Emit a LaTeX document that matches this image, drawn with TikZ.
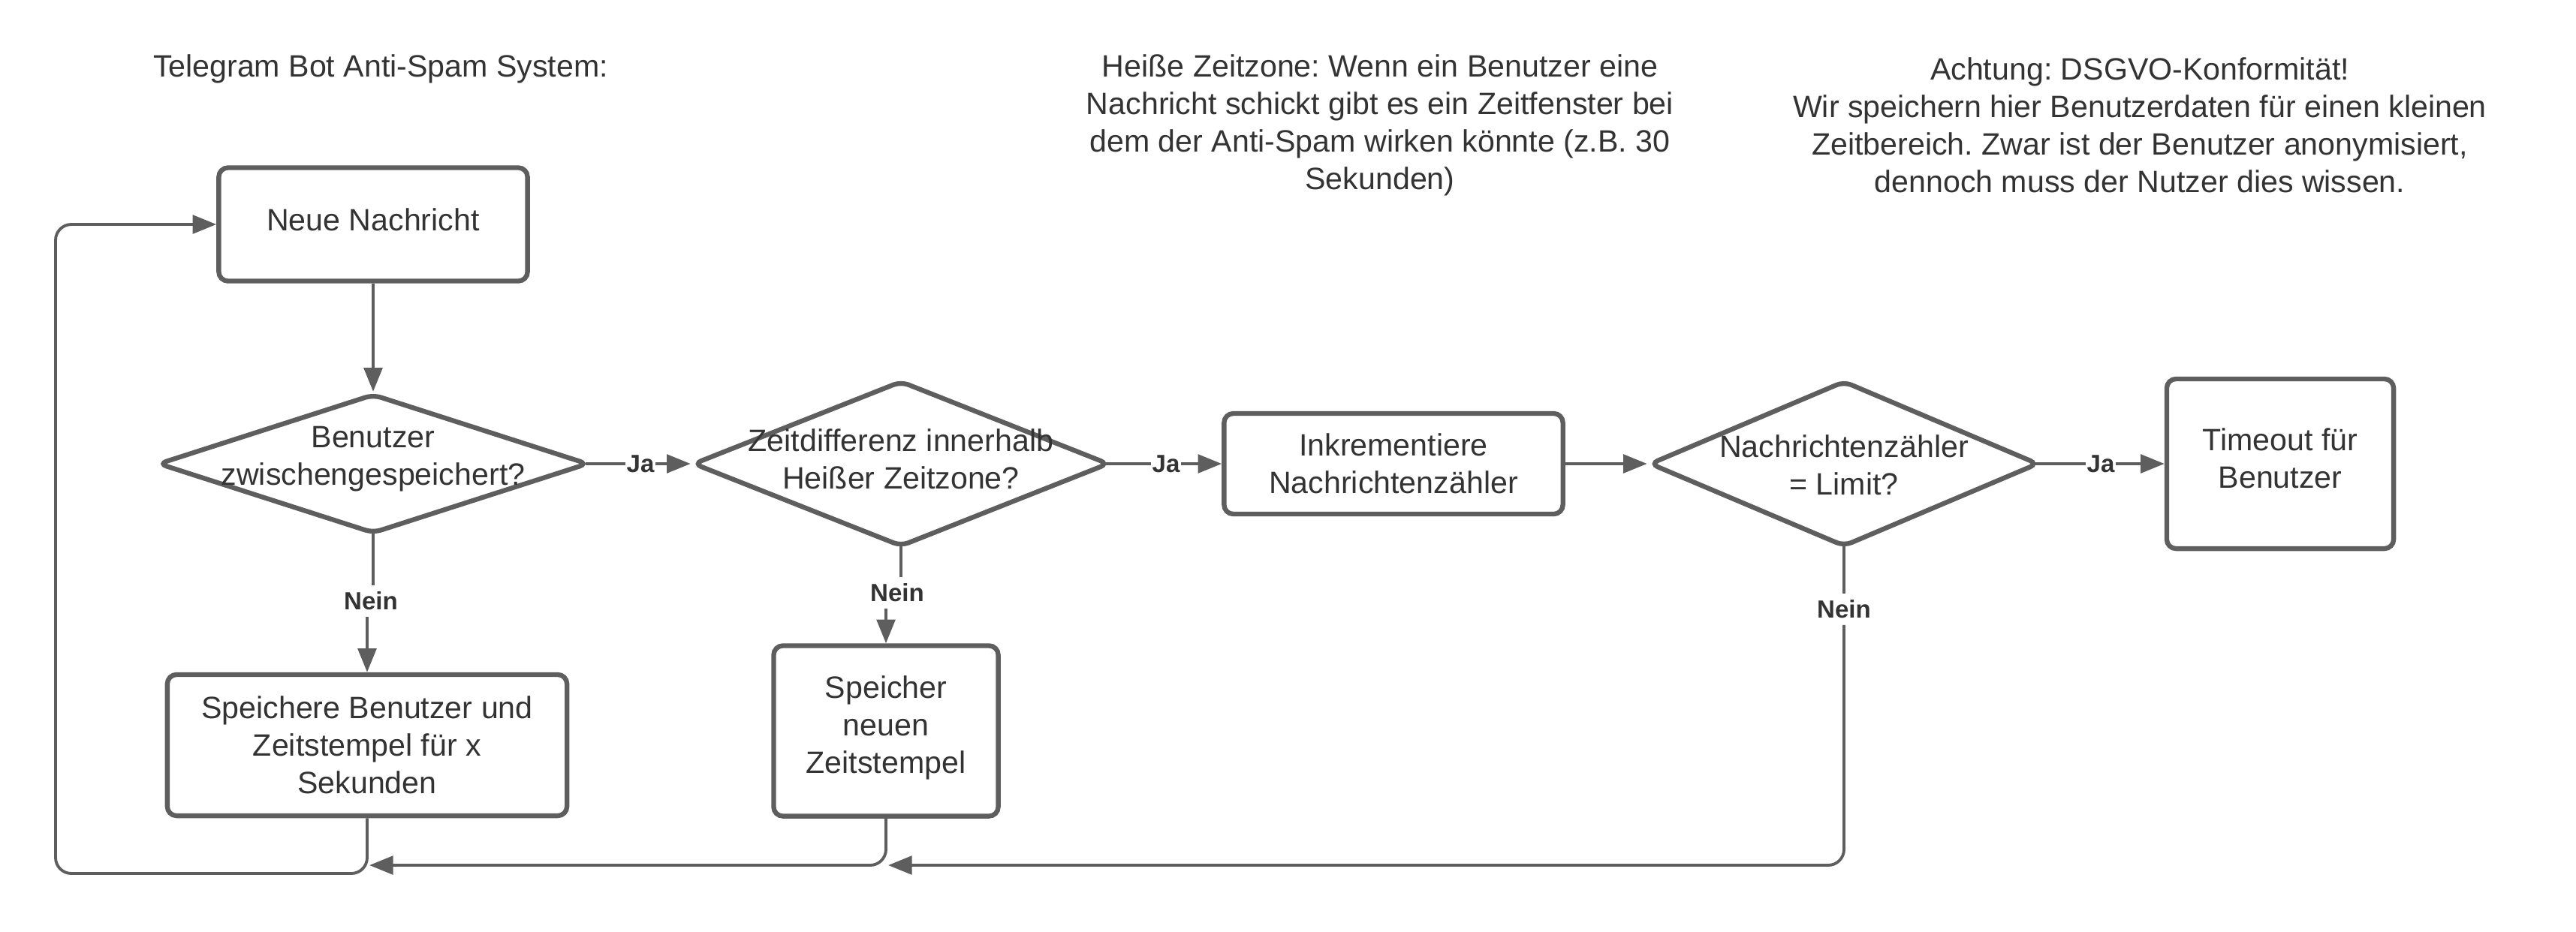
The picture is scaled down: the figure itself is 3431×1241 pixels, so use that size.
\documentclass[tikz,border=0pt]{standalone}
\usepackage{fontspec}
\setmainfont{Liberation Sans}
\usetikzlibrary{arrows.meta,shapes.geometric}
\definecolor{linegray}{HTML}{5E5E5E}
\definecolor{textgray}{HTML}{333333}
\frenchspacing
\tikzset{
  txt/.style={align=center, text=textgray, font=\fontsize{11.7}{14.2}\selectfont\frenchspacing, inner sep=0pt},
  box/.style={draw=linegray, line width=1.8pt, rounded corners=3.5pt, fill=white},
  dia/.style={draw=linegray, line width=1.8pt, shape=diamond, rounded corners=3pt, inner sep=0pt, fill=white},
  conn/.style={draw=linegray, line width=1.1pt},
  arr/.style={conn, -{Triangle[length=9pt,width=7pt]}},
  lbl/.style={fill=white, text=textgray, font=\fontsize{9.4}{11}\selectfont\bfseries, inner sep=0.3pt},
}
\begin{document}
\begin{tikzpicture}[x=0.01cm, y=-0.01cm]
\path[use as bounding box, fill=white] (0,0) rectangle (3431,1241);

% texts on top
\node[txt] (title) at (507,92) {Telegram Bot Anti-Spam System:};
\node[txt] (note1) at (1838,167) {Heiße Zeitzone: Wenn ein Benutzer eine\\Nachricht schickt gibt es ein Zeitfenster bei\\dem der Anti-Spam wirken könnte (z.B. 30\\Sekunden)};
\node[txt] (note2) at (2850,167) {Achtung: DSGVO-Konformität!\\Wir speichern hier Benutzerdaten für einen kleinen\\Zeitbereich. Zwar ist der Benutzer anonymisiert,\\dennoch muss der Nutzer dies wissen.};

% connectors first (behind shapes)
\node[lbl] (ja1) at (853,618) {Ja};
\node[lbl] (nein1) at (494,801) {Nein};
\node[lbl] (ja2) at (1553,618) {Ja};
\node[lbl] (nein2) at (1195,790) {Nein};
\node[lbl] (ja3) at (2798,618) {Ja};
\node[lbl] (nein3) at (2456,812) {Nein};

% shapes
\node[box, minimum width=4.11cm, minimum height=1.51cm] (n) at (497,299) {};
\node[txt] (nt) at (497,293) {Neue Nachricht};

\node[dia, minimum width=5.73cm, minimum height=1.86cm] (d1) at (497,618) {};
\node[txt] (d1t) at (497,612) {Benutzer\\zwischengespeichert?};

\node[dia, minimum width=5.54cm, minimum height=2.21cm] (d2) at (1200,618) {};
\node[txt] (d2t) at (1200,612) {Zeitdifferenz innerhalb\\Heißer Zeitzone?};

\node[box, minimum width=4.51cm, minimum height=1.34cm] (inc) at (1856,618) {};
\node[txt] (inct) at (1856,618) {Inkrementiere\\Nachrichtenzähler};

\node[dia, minimum width=5.18cm, minimum height=2.21cm] (d3) at (2456,618) {};
\node[txt] (d3t) at (2456,620) {Nachrichtenzähler\\= Limit?};

\node[box, minimum width=3.02cm, minimum height=2.26cm] (to) at (3037,618) {};
\node[txt] (tot) at (3037,611) {Timeout für\\Benutzer};

\node[box, minimum width=5.32cm, minimum height=1.88cm] (b1) at (489,993) {};
\node[txt] (b1t) at (489,993) {Speichere Benutzer und\\Zeitstempel für x\\Sekunden};

\node[box, minimum width=2.99cm, minimum height=2.27cm] (b2) at (1180,974) {};
\node[txt] (b2t) at (1180,970) {Speicher\\neuen\\Zeitstempel};

% connectors
\draw[arr] (n.south) -- (d1.north);

\draw[conn] ([xshift=-2pt]d1.east) -- (ja1.west);
\draw[arr] (ja1.east) -- (d2.west);

\draw[conn] ([yshift=2pt]d1.south) -- ([yshift=2pt]d1.south |- nein1.north);
\draw[arr] ([yshift=-2pt]b1.north |- nein1.south) -- (b1.north);

\draw[conn] ([xshift=-2pt]d2.east) -- (ja2.west);
\draw[arr] (ja2.east) -- (inc.west);

\draw[conn] ([yshift=2pt]d2.south) -- ([yshift=2pt]d2.south |- nein2.north);
\draw[arr] ([yshift=-2pt]b2.north |- nein2.south) -- (b2.north);

\draw[arr] (inc.east) -- (d3.west);

\draw[conn] ([xshift=-2pt]d3.east) -- (ja3.west);
\draw[arr] (ja3.east) -- (to.west);

\draw[conn] ([yshift=2pt]d3.south) -- ([yshift=2pt]nein3.north);
\coordinate (j2) at (1183,1153);
\draw[arr, rounded corners=6pt] ([yshift=-2pt]nein3.south) |- (j2);

\coordinate (j1) at (492,1153);
\draw[arr, rounded corners=6pt] (b2.south) |- (j1);

\coordinate (lb) at (74,1164);
\draw[arr, rounded corners=6pt] (b1.south) |- (lb) |- (n.west);
\end{tikzpicture}
\end{document}
